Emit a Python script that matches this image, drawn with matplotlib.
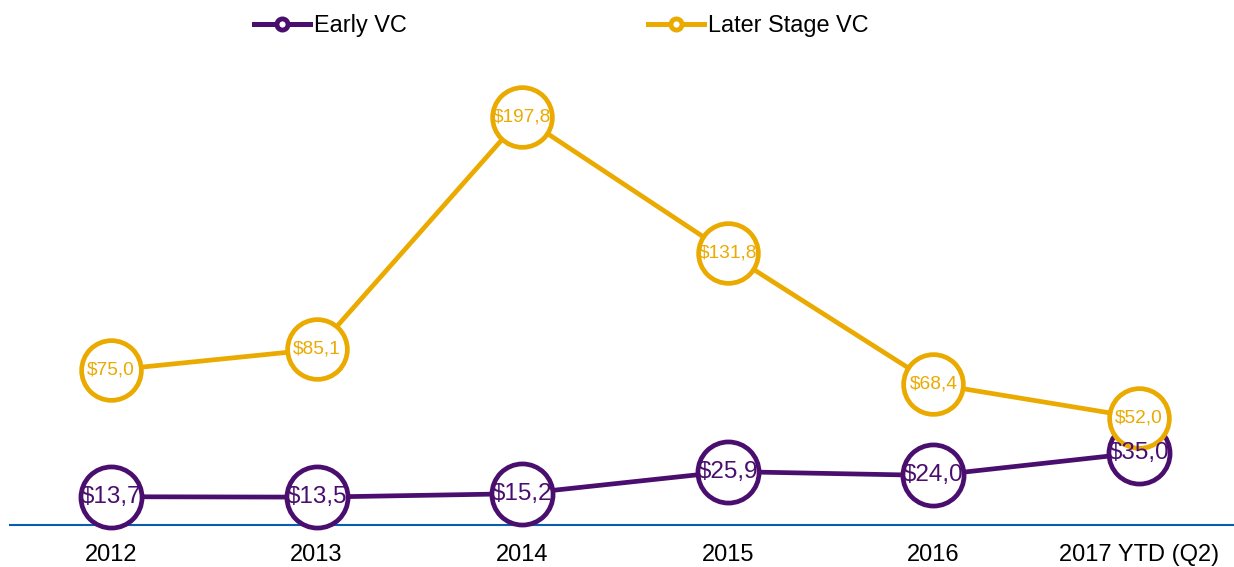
import matplotlib
matplotlib.use("Agg")
import matplotlib.pyplot as plt
from matplotlib.lines import Line2D

categories = ["2012", "2013", "2014", "2015", "2016", "2017 YTD (Q2)"]
early_vc = [13.7, 13.5, 15.2, 25.9, 24.0, 35.0]
later_vc = [75.0, 85.1, 197.8, 131.8, 68.4, 52.0]
early_labels = ["$13,7", "$13,5", "$15,2", "$25,9", "$24,0", "$35,0"]
later_labels = ["$75,0", "$85,1", "$197,8", "$131,8", "$68,4", "$52,0"]

PURPLE = "#4a0e6e"
GOLD = "#eaaa00"
BLUE = "#0a5cb0"

plt.rcParams['font.family'] = ['Liberation Sans', 'DejaVu Sans']

fig = plt.figure(figsize=(12.34, 5.67), dpi=100)
ax = fig.add_axes([10/1234, 42/567, 1 - 10/1234, 525/567])
x = list(range(len(categories)))

ax.plot(x, early_vc, color=PURPLE, lw=3.4, marker='o', ms=44, mfc='white',
        mec=PURPLE, mew=3.4, zorder=3, clip_on=False)
ax.plot(x, later_vc, color=GOLD, lw=3.4, marker='o', ms=43, mfc='white',
        mec=GOLD, mew=3.4, zorder=4, clip_on=False)

for xi, v, t in zip(x, early_vc, early_labels):
    ax.text(xi, v, t, color=PURPLE, fontsize=17.5, ha='center', va='center', zorder=6)
for xi, v, t in zip(x, later_vc, later_labels):
    ax.text(xi, v, t, color=GOLD, fontsize=13.8, ha='center', va='center', zorder=6)

ax.set_xlim(-0.491, 5.462)
ax.set_ylim(0, 254.4)
ax.set_xticks(x)
ax.set_xticklabels(categories, fontsize=17)
ax.tick_params(axis='x', length=0, pad=14)
ax.set_yticks([])
for s in ['top', 'right', 'left']:
    ax.spines[s].set_visible(False)
ax.spines['bottom'].set_color(BLUE)
ax.spines['bottom'].set_linewidth(1.5)

handles = [
    Line2D([0], [0], color=PURPLE, lw=3.6, marker='o', ms=8, mfc='white', mec=PURPLE, mew=3.5),
    Line2D([0], [0], color=GOLD, lw=3.6, marker='o', ms=8, mfc='white', mec=GOLD, mew=3.5),
]
fig.legend(handles, ["Early VC", "Later Stage VC"], loc='center left',
           bbox_to_anchor=(254/1234, 1 - 25.5/567), ncol=2, frameon=False,
           fontsize=16.9, handlelength=2.38, handletextpad=0.17, columnspacing=10.3,
           borderaxespad=0, borderpad=0)

fig.savefig("out.png", dpi=100)
